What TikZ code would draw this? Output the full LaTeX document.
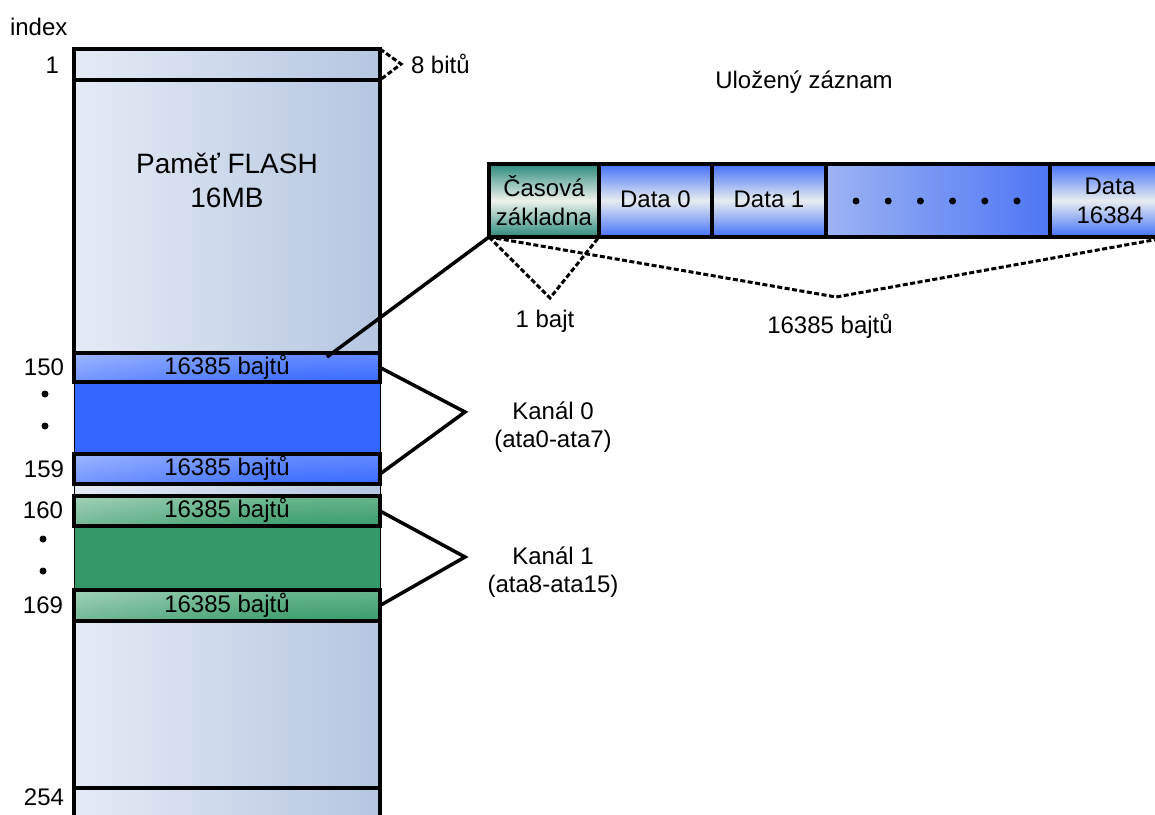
\documentclass[tikz,border=0pt]{standalone}
\usepackage{fontspec}
\setmainfont{Liberation Sans}

\definecolor{memlight}{HTML}{E5EBF5}
\definecolor{memdark}{HTML}{B5C6E1}
\definecolor{chblue}{HTML}{3366FF}
\definecolor{chbluetop}{HTML}{A0B8FF}
\definecolor{chgreen}{HTML}{339966}
\definecolor{chgreentop}{HTML}{A8D8BC}
\definecolor{tbteal}{HTML}{2A8A7B}
\definecolor{tbmid}{HTML}{EEF2EC}
\definecolor{cellblue}{HTML}{4270FA}
\definecolor{cellmid}{HTML}{E8EDEF}
\definecolor{dotsleft}{HTML}{9DB3F3}
\definecolor{dotsright}{HTML}{4D76F4}

% left-to-right gloss for the channel rows
\pgfdeclarehorizontalshading{bluegloss}{100bp}{%
  color(0bp)=(white!88!chblue); color(30bp)=(white!45!chblue);
  color(60bp)=(white!8!chblue); color(100bp)=(chblue)}
\pgfdeclarehorizontalshading{greengloss}{100bp}{%
  color(0bp)=(white!88!chgreen); color(30bp)=(white!45!chgreen);
  color(60bp)=(white!8!chgreen); color(100bp)=(chgreen)}

\begin{document}
\begin{tikzpicture}[x=1pt,y=-1pt,
  every node/.style={font=\fontsize{24}{29}\selectfont, inner sep=0pt, outer sep=0pt},
  border/.style={draw=black, line width=3.5pt},
  memcell/.style={border, left color=memlight, right color=memdark, minimum width=306pt},
  fillcell/.style={draw=black, line width=1pt, fill=#1, minimum width=306pt},
  vgloss/.style 2 args={path picture={\shade[top color=#1, bottom color=#2, fill opacity=0.4]
      (path picture bounding box.north west) rectangle (path picture bounding box.south east);}},
  bluerow/.style={border, shading=bluegloss, vgloss={chbluetop}{chblue},
      minimum width=306pt, minimum height=30pt, text height=17pt, text depth=4pt},
  greenrow/.style={border, shading=greengloss, vgloss={chgreentop}{chgreen},
      minimum width=306pt, minimum height=30pt, text height=17pt, text depth=4pt},
  reccell/.style={border, minimum height=73pt, align=center},
  datacell/.style={reccell, top color=cellblue, bottom color=cellblue, middle color=cellmid},
  dashedline/.style={line width=3pt, dash pattern=on 5pt off 2.5pt},
  solidline/.style={line width=3.5pt},
  label/.style={anchor=base},
  titlefont/.style={font=\fontsize{28}{34}\selectfont}
]
\useasboundingbox (0,0) rectangle (1155,814);

% ---- memory column ----
\node[memcell, minimum height=31pt] (m1) at (227,64.5) {};
\node[memcell, minimum height=273pt] (mmain) at (227,216.5) {};
\node[fillcell=chblue, minimum height=72pt] (bfill) at (227,418) {};
\node[draw=black, line width=1pt, left color=memlight, right color=memdark,
      minimum width=306pt, minimum height=12pt] (gap) at (227,490) {};
\node[fillcell=chgreen, minimum height=64pt] (gfill) at (227,558) {};
\node[memcell, minimum height=167pt] (mlow) at (227,704.5) {};
\node[memcell, minimum height=42pt] (m254) at (227,809) {};

\node[bluerow, minimum height=29pt] (r150) at (227,367.5) {16385 bajtů};
\node[bluerow] (r159) at (227,469) {16385 bajtů};
\node[greenrow] (r160) at (227,511) {16385 bajtů};
\node[greenrow, minimum height=31pt] (r169) at (227,605.5) {16385 bajtů};

\node[titlefont, label] (title) at (227,173) {Paměť FLASH};
\node[titlefont, label] (size) at (227,207) {16MB};

% ---- index labels ----
\node[anchor=base west] (hdr) at (10,35) {index};
\node[anchor=base east] (i1) at (59,73) {1};
\node[anchor=base east] (i150) at (64,375) {150};
\node[anchor=base east] (i159) at (64,477) {159};
\node[anchor=base east] (i160) at (63,518) {160};
\node[anchor=base east] (i169) at (63,613) {169};
\node[anchor=base east] (i254) at (64,805) {254};
\foreach \yy in {394,426} \fill (45,\yy) circle (3.5);
\foreach \yy in {539,571} \fill (43,\yy) circle (3.5);

\node[anchor=base west] (bits) at (411,73) {8 bitů};
\coordinate (bitsapex) at (401,64);
\draw[dashedline] (m1.north east) -- (bitsapex) -- (m1.south east);

% ---- stored record ----
\node[label] (rec) at (804,88) {Uložený záznam};
\node[reccell, top color=tbteal, bottom color=tbteal, middle color=tbmid,
      minimum width=110pt] (tb) at (544,200.5) {Časová\\základna};
\node[datacell, minimum width=113pt, text height=17pt, text depth=3pt] (d0) at (655.5,200.5) {Data 0};
\node[datacell, minimum width=114pt, text height=17pt, text depth=3pt] (d1) at (769,200.5) {Data 1};
\node[reccell, left color=dotsleft, right color=dotsright, minimum width=224pt] (dots) at (938,200.5) {};
\node[datacell, minimum width=120pt] (dlast) at (1110,200.5) {Data\\16384};
\foreach \i in {0,...,5} \fill (856+32.2*\i,201) circle (3.5);

\coordinate (zoomend) at (327,357);
\coordinate (onebyte) at (550,298);
\coordinate (allbytes) at (836,297);
\draw[solidline] (tb.south west) -- (zoomend);
\draw[dashedline] (tb.south west) -- (onebyte) -- (tb.south east);
\draw[dashedline] (tb.south west) -- (allbytes) -- (dlast.south east);
\node[label] (onelbl) at (545,327) {1 bajt};
\node[label] (alllbl) at (830,333) {16385 bajtů};

% ---- channel brackets ----
\coordinate (k0apex) at (465,412);
\coordinate (k1apex) at (465,557);
\draw[solidline] (r150.east) -- (k0apex) -- ([yshift=-5pt]r159.east);
\draw[solidline] (r160.east) -- (k1apex) -- (r169.east);
\node[label] (k0a) at (553,419) {Kanál 0};
\node[label] (k0b) at (553,447) {(ata0-ata7)};
\node[label] (k1a) at (553,564) {Kanál 1};
\node[label] (k1b) at (553,592) {(ata8-ata15)};
\end{tikzpicture}
\end{document}
